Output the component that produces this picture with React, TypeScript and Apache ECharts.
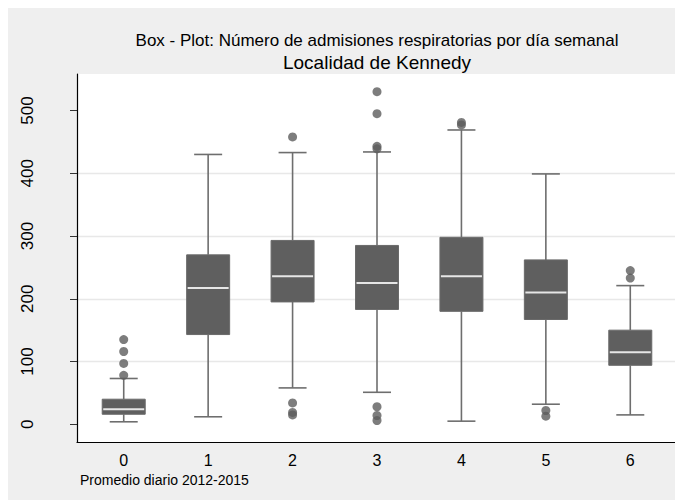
import React, { useEffect, useRef } from "react";
import * as echarts from "echarts";

const categories = ["0", "1", "2", "3", "4", "5", "6"];
const lowerWhisker = [4, 12, 58, 51, 5, 32, 15];
const lowerQuartile = [16, 143, 195, 183, 180, 167, 94];
const medians = [24, 217, 236, 225, 236, 210, 115];
const upperQuartile = [40, 270, 293, 285, 298, 262, 150];
const upperWhisker = [73, 430, 433, 434, 469, 399, 221];
const outlierCategory = [0, 0, 0, 0, 2, 2, 2, 2, 3, 3, 3, 3, 3, 3, 3, 4, 4, 5, 5, 6, 6];
const outlierValue = [135, 116, 97, 78, 458, 34, 19, 15, 530, 495, 443, 439, 28, 14, 6, 481, 477, 22, 13, 245, 233];
const yTicks = [0, 100, 200, 300, 400, 500];

const titleLine1 = "Box - Plot: Número de admisiones respiratorias por día semanal";
const titleLine2 = "Localidad de Kennedy";
const noteText = "Promedio diario 2012-2015";

const FONT = "'Liberation Sans', Arial, Helvetica, sans-serif";
const Y_MIN = -28.2;
const Y_MAX = 558.2;

export default function App() {
  const ref = useRef<HTMLDivElement>(null);
  useEffect(() => {
    if (!ref.current) return;
    const chart = echarts.init(ref.current, null, { renderer: "svg" });
    const boxData = categories.map((_, i) => [
      i,
      lowerWhisker[i],
      lowerQuartile[i],
      medians[i],
      upperQuartile[i],
      upperWhisker[i],
    ]);
    const outlierData = outlierCategory.map((c, i) => [c, outlierValue[i]]);

    const option: any = {
      animation: false,
      backgroundColor: "#efefef",
      graphic: [
        {
          type: "text",
          x: 369,
          y: 32,
          style: {
            text: titleLine1,
            fontSize: 17,
            fontFamily: FONT,
            fill: "#000",
            textAlign: "center",
            textVerticalAlign: "middle",
          },
        },
        {
          type: "text",
          x: 369,
          y: 54,
          style: {
            text: titleLine2,
            fontSize: 19,
            fontFamily: FONT,
            fill: "#000",
            textAlign: "center",
            textVerticalAlign: "middle",
          },
        },
        {
          type: "text",
          x: 72,
          y: 472,
          style: {
            text: noteText,
            fontSize: 14,
            fontFamily: FONT,
            fill: "#000",
            textAlign: "left",
            textVerticalAlign: "middle",
          },
        },
      ],
      grid: [
        {
          left: 69,
          top: 66,
          width: 600,
          height: 368,
          show: true,
          backgroundColor: "#ffffff",
          borderWidth: 0,
        },
        {
          left: 73.5,
          top: 66,
          width: 591,
          height: 368,
          show: false,
        },
      ],
      xAxis: [
        {
          gridIndex: 0,
          type: "value",
          min: 0,
          max: 1,
          axisLine: { show: true, onZero: false, lineStyle: { color: "#000", width: 1.2 } },
          axisTick: { show: false },
          axisLabel: { show: false },
          splitLine: { show: false },
        },
        {
          gridIndex: 1,
          type: "category",
          data: categories,
          boundaryGap: true,
          axisLine: { show: false },
          axisTick: { show: false },
          axisLabel: {
            show: true,
            fontSize: 16,
            fontFamily: FONT,
            color: "#000",
            margin: 10,
          },
          splitLine: { show: false },
        },
      ],
      yAxis: [
        {
          gridIndex: 0,
          type: "value",
          min: Y_MIN,
          max: Y_MAX,
          splitNumber: 5,
          axisLine: { show: true, onZero: false, lineStyle: { color: "#000", width: 1.2 } },
          axisTick: {
            show: true,
            length: 7,
            customValues: yTicks,
            lineStyle: { color: "#333", width: 1 },
          },
          axisLabel: {
            show: true,
            rotate: 90,
            fontSize: 17,
            fontFamily: FONT,
            color: "#000",
            margin: 41,
            customValues: yTicks,
            formatter: (v: number) => (Math.abs(v % 100) < 1e-6 ? String(v) : ""),
          },
          splitLine: {
            show: true,
            showMinLine: false,
            showMaxLine: false,
            lineStyle: { color: "#e8e8e8", width: 1.3 },
          },
        },
        {
          gridIndex: 1,
          type: "value",
          min: Y_MIN,
          max: Y_MAX,
          show: false,
          splitLine: { show: false },
        },
      ],
      series: [
        {
          type: "custom",
          xAxisIndex: 1,
          yAxisIndex: 1,
          encode: { x: 0, y: [1, 2, 3, 4, 5] },
          data: boxData,
          renderItem: (params: any, api: any) => {
            const idx = api.value(0);
            const lo = api.coord([idx, api.value(1)]);
            const b1 = api.coord([idx, api.value(2)]);
            const md = api.coord([idx, api.value(3)]);
            const b3 = api.coord([idx, api.value(4)]);
            const hi = api.coord([idx, api.value(5)]);
            const cx = lo[0];
            const boxHalf = 21.5;
            const capHalf = 14;
            const wStyle = { stroke: "#6e6e6e", lineWidth: 1.6 };
            return {
              type: "group",
              children: [
                { type: "line", shape: { x1: cx, y1: hi[1], x2: cx, y2: b3[1] }, style: wStyle },
                { type: "line", shape: { x1: cx, y1: b1[1], x2: cx, y2: lo[1] }, style: wStyle },
                { type: "line", shape: { x1: cx - capHalf, y1: hi[1], x2: cx + capHalf, y2: hi[1] }, style: wStyle },
                { type: "line", shape: { x1: cx - capHalf, y1: lo[1], x2: cx + capHalf, y2: lo[1] }, style: wStyle },
                {
                  type: "rect",
                  shape: { x: cx - boxHalf, y: b3[1], width: boxHalf * 2, height: b1[1] - b3[1] },
                  style: { fill: "#5f5f5f", stroke: "#6a6a6a", lineWidth: 1 },
                },
                {
                  type: "line",
                  shape: { x1: cx - boxHalf + 1, y1: md[1], x2: cx + boxHalf - 1, y2: md[1] },
                  style: { stroke: "#e6e6e6", lineWidth: 2 },
                },
              ],
            };
          },
        },
        {
          type: "scatter",
          xAxisIndex: 1,
          yAxisIndex: 1,
          symbol: "circle",
          symbolSize: 9,
          itemStyle: { color: "#5c5c5c" },
          data: outlierData,
        },
      ],
    };
    chart.setOption(option);
    return () => chart.dispose();
  }, []);
  return <div ref={ref} style={{ width: 675, height: 492 }} />;
}
